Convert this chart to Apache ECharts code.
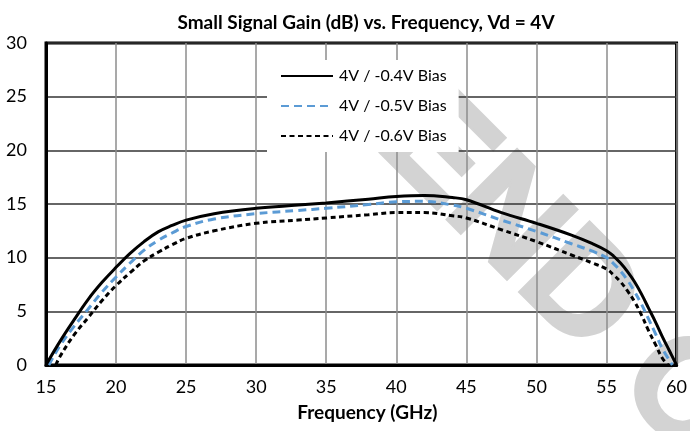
<!DOCTYPE html>
<html>
<head>
<meta charset="utf-8">
<script src="https://cdn.jsdelivr.net/npm/echarts@6/dist/echarts.min.js"></script>
<style>
  html, body { margin: 0; padding: 0; background: #fff; }
  #chart { width: 690px; height: 431px; }
</style>
</head>
<body>
<div id="chart"></div>
<script>
// Small signal gain curves at Vd = 4V for three gate bias settings
const seriesNames = ['4V / -0.4V Bias', '4V / -0.5V Bias', '4V / -0.6V Bias'];

const freqA = [15, 16, 17, 18, 19, 20, 21, 22, 23, 24, 25, 27, 30, 33, 35, 38, 40, 42, 44, 45, 47.5, 50, 52.5, 54, 55, 55.5, 56, 56.5, 57, 57.5, 58, 58.5, 59, 59.5, 60];
const gainA = [0, 2.2, 4.2, 6.1, 7.7, 9.1, 10.4, 11.5, 12.4, 13.0, 13.5, 14.1, 14.6, 14.9, 15.1, 15.45, 15.7, 15.8, 15.6, 15.4, 14.2, 13.2, 12.1, 11.3, 10.65, 10.15, 9.5, 8.7, 7.75, 6.6, 5.3, 4.0, 2.6, 1.3, 0];

const freqB = [15.2, 16, 17, 18, 19, 20, 21, 22, 23, 24, 25, 27, 30, 33, 35, 38, 40, 42, 44, 45, 47.5, 50, 52.5, 54, 55, 55.5, 56, 56.5, 57, 57.5, 58, 58.5, 59, 59.7];
const gainB = [0, 1.8, 3.6, 5.2, 6.8, 8.2, 9.5, 10.7, 11.6, 12.3, 12.9, 13.6, 14.1, 14.4, 14.6, 14.95, 15.2, 15.25, 14.9, 14.6, 13.5, 12.45, 11.3, 10.6, 10.0, 9.45, 8.75, 7.9, 6.85, 5.65, 4.3, 2.9, 1.5, 0];

const freqC = [15.7, 16, 17, 18, 19, 20, 21, 22, 23, 24, 25, 27, 30, 33, 35, 38, 40, 42, 44, 45, 47.5, 50, 52.5, 54, 55, 55.5, 56, 56.5, 57, 57.5, 58, 58.5, 59, 59.4];
const gainC = [0, 0.8, 2.8, 4.4, 6.0, 7.4, 8.6, 9.7, 10.5, 11.2, 11.8, 12.5, 13.2, 13.5, 13.7, 14.0, 14.2, 14.2, 13.9, 13.7, 12.6, 11.5, 10.25, 9.5, 8.95, 8.4, 7.75, 6.9, 5.9, 4.65, 3.2, 1.9, 0.6, 0];

const xTicks = { min: 15, max: 60, step: 5 };
const yTicks = { min: 0, max: 30, step: 5 };

const pairs = (xs, ys) => xs.map((x, i) => [x, ys[i]]);

const fontFamily = 'Lato, "Noto Sans", sans-serif';

const chart = echarts.init(document.getElementById('chart'), null, { renderer: 'canvas' });

chart.setOption({
  animation: false,
  backgroundColor: '#ffffff',
  textStyle: { fontFamily: fontFamily },
  title: {
    text: 'Small Signal Gain (dB) vs. Frequency, Vd = 4V',
    left: 361,
    top: 8,
    textAlign: 'center',
    textStyle: { fontFamily: fontFamily, fontSize: 19, fontWeight: 'bold', color: '#000' }
  },
  graphic: [{
    // diagonal "END OF LIFE" stamp behind the plot
    type: 'text',
    z: -10,
    x: 402,
    y: 118,
    rotation: -Math.PI / 4,
    style: {
      text: 'END OF LIFE',
      font: 'bold 142px "Liberation Sans", Arial, sans-serif',
      fill: '#d3d3d3',
      stroke: '#d3d3d3',
      lineWidth: 4,
      textVerticalAlign: 'middle'
    }
  }],
  legend: {
    data: seriesNames,
    orient: 'vertical',
    left: 267,
    top: 60,
    padding: [8, 12, 8, 13],
    itemGap: 14,
    itemWidth: 52,
    itemHeight: 16,
    itemStyle: { opacity: 0 },
    backgroundColor: '#ffffff',
    textStyle: { fontFamily: fontFamily, fontSize: 16, color: '#000', padding: [0, 0, 0, 1] }
  },
  grid: {
    left: 46,
    right: 13,
    top: 43,
    bottom: 66,
    show: true,
    borderColor: '#000',
    borderWidth: 3,
    backgroundColor: 'transparent'
  },
  xAxis: {
    type: 'value',
    min: xTicks.min,
    max: xTicks.max,
    interval: xTicks.step,
    name: 'Frequency (GHz)',
    nameLocation: 'middle',
    nameGap: 38,
    nameTextStyle: { fontFamily: fontFamily, fontSize: 19, fontWeight: 'bold', color: '#000', padding: [0, 0, 0, 12] },
    axisLine: { show: true, lineStyle: { color: '#000', width: 3 } },
    axisTick: { show: false },
    axisLabel: { margin: 13, fontFamily: fontFamily, fontSize: 18, color: '#000' },
    splitLine: { show: true, lineStyle: { color: '#8c8c8c', width: 1.5 } }
  },
  yAxis: {
    type: 'value',
    min: yTicks.min,
    max: yTicks.max,
    interval: yTicks.step,
    axisLine: { show: true, lineStyle: { color: '#000', width: 3 } },
    axisTick: { show: false },
    axisLabel: { margin: 19, fontFamily: fontFamily, fontSize: 18, color: '#000' },
    splitLine: { show: true, lineStyle: { color: '#333', width: 1.5 } }
  },
  series: [
    {
      name: seriesNames[0],
      type: 'line',
      smooth: 0.4,
      showSymbol: false,
      symbol: 'none',
      data: pairs(freqA, gainA),
      lineStyle: { color: '#000', width: 3, type: 'solid' },
      itemStyle: { color: '#000' },
      z: 5
    },
    {
      name: seriesNames[1],
      type: 'line',
      smooth: 0.4,
      showSymbol: false,
      symbol: 'none',
      data: pairs(freqB, gainB),
      lineStyle: { color: '#5b9bd5', width: 3, type: [8, 5] },
      itemStyle: { color: '#5b9bd5' },
      z: 4
    },
    {
      name: seriesNames[2],
      type: 'line',
      smooth: 0.4,
      showSymbol: false,
      symbol: 'none',
      data: pairs(freqC, gainC),
      lineStyle: { color: '#000', width: 3, type: [5, 3.5] },
      itemStyle: { color: '#000' },
      z: 3
    }
  ]
});
</script>
</body>
</html>
